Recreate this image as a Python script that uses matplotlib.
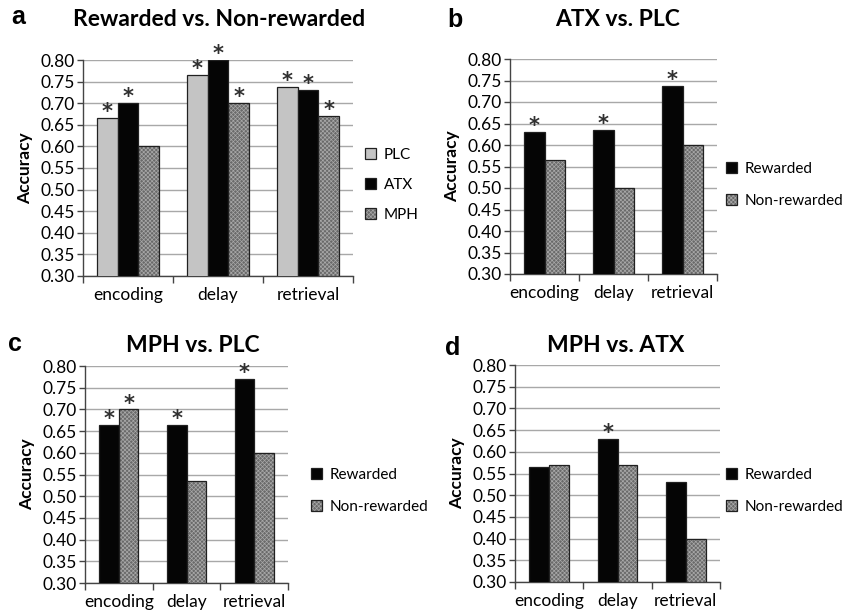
import matplotlib
matplotlib.use("Agg")
import matplotlib.pyplot as plt
from matplotlib.patches import Patch
from matplotlib.legend_handler import HandlerTuple
import numpy as np

plt.rcParams['font.family'] = ['Lato', 'DejaVu Sans']
plt.rcParams['hatch.linewidth'] = 0.5

cats = ['encoding', 'delay', 'retrieval']

# panel a: drug groups, rewarded vs non-rewarded difference
a_plc = [0.665, 0.765, 0.737]
a_atx = [0.700, 0.800, 0.730]
a_mph = [0.600, 0.700, 0.670]
a_plc_star = [1, 1, 1]
a_atx_star = [1, 1, 1]
a_mph_star = [0, 1, 1]

# panel b: ATX vs PLC
b_rew = [0.630, 0.635, 0.737]
b_non = [0.565, 0.500, 0.600]
b_rew_star = [1, 1, 1]
b_non_star = [0, 0, 0]

# panel c: MPH vs PLC
c_rew = [0.665, 0.665, 0.770]
c_non = [0.700, 0.535, 0.600]
c_rew_star = [1, 1, 1]
c_non_star = [1, 0, 0]

# panel d: MPH vs ATX
d_rew = [0.565, 0.630, 0.530]
d_non = [0.570, 0.570, 0.400]
d_rew_star = [0, 1, 0]
d_non_star = [0, 0, 0]

yticks = np.arange(0.30, 0.801, 0.05)

FACES = {'light': '#c4c4c4', 'black': '#050505', 'hatch': '#6a6a6a'}
HATCH = 'xxxxxxxx'


def draw_bar(ax, x, h, w, style):
    if style == 'hatch':
        ax.bar(x, h, w, color=FACES['hatch'], hatch=HATCH, edgecolor='#a8a8a8',
               linewidth=0, zorder=2)
        ax.bar(x, h, w, fill=False, edgecolor='#202020', linewidth=0.9, zorder=3)
    else:
        ax.bar(x, h, w, color=FACES[style], edgecolor='#202020',
               linewidth=0.9, zorder=3)


def legend_handle(style):
    if style == 'hatch':
        p1 = Patch(facecolor=FACES['hatch'], hatch=HATCH, edgecolor='#a8a8a8', linewidth=0)
        p2 = Patch(fill=False, edgecolor='#202020', linewidth=0.9)
        return (p1, p2)
    return Patch(facecolor=FACES[style], edgecolor='#202020', linewidth=0.9)


def panel(ax, series, styles, stars, width, title, letter, labels,
          title_xy, letter_xy, leg_xy, leg_gap):
    n = len(series)
    centers = np.arange(len(cats)) + 0.5
    for i, (vals, st, sr) in enumerate(zip(series, styles, stars)):
        xs = centers + (i - (n - 1) / 2) * width
        for x, v, s in zip(xs, vals, sr):
            draw_bar(ax, x, v, width, st)
            if s:
                ax.annotate('*', (x, v), xytext=(0, -3), textcoords='offset points',
                            ha='center', va='bottom', fontsize=15, color='#303030',
                            fontweight='bold', family=['DejaVu Sans'])
    ax.set_xlim(0, len(cats))
    ax.set_ylim(0.30, 0.80)
    ax.set_yticks(yticks)
    ax.set_yticklabels([f'{t:.2f}' for t in yticks], fontsize=12.5)
    ax.yaxis.grid(True, color='#a8a8a8', linewidth=1.0, zorder=0)
    ax.set_axisbelow(True)
    ax.set_xticks(centers)
    ax.set_xticklabels(cats, fontsize=12.5)
    ax.set_xticks(np.arange(len(cats) + 1), minor=True)
    ax.tick_params(axis='x', which='major', length=0, pad=8)
    ax.tick_params(axis='x', which='minor', length=5, color='#444444', width=1)
    ax.tick_params(axis='y', length=4, color='#444444', width=1, pad=2)
    for s in ['top', 'right']:
        ax.spines[s].set_visible(False)
    for s in ['left', 'bottom']:
        ax.spines[s].set_color('#444444')
        ax.spines[s].set_linewidth(1.0)
    ax.set_ylabel('Accuracy', fontsize=12.5, fontweight='bold', labelpad=5)
    fig.text(title_xy[0] / W, 1 - title_xy[1] / H, title, ha='center', va='center',
             fontsize=16.5, fontweight='bold')
    fig.text(letter_xy[0] / W, 1 - letter_xy[1] / H, letter, ha='center', va='center',
             fontsize=18, fontweight='bold', family=['Liberation Sans', 'DejaVu Sans'])
    handles = [legend_handle(st) for st in styles]
    fig.legend(handles, labels, loc='center left',
               bbox_to_anchor=(leg_xy[0] / W, 1 - leg_xy[1] / H),
               frameon=False, fontsize=11, handlelength=0.75, handleheight=0.75,
               handletextpad=0.5, labelspacing=leg_gap, borderpad=0,
               borderaxespad=0,
               handler_map={tuple: HandlerTuple(ndivide=1)})


W, H = 846, 615
fig = plt.figure(figsize=(W / 100, H / 100), dpi=100)


def add_ax(l, t, r, b):
    return fig.add_axes([l / W, 1 - b / H, (r - l) / W, (b - t) / H])


ax_a = add_ax(83, 60, 353, 276)
ax_b = add_ax(510, 59, 717, 274)
ax_c = add_ax(85, 366, 288, 583)
ax_d = add_ax(515, 365, 720, 582)

panel(ax_a, [a_plc, a_atx, a_mph], ['light', 'black', 'hatch'],
      [a_plc_star, a_atx_star, a_mph_star], 0.23,
      'Rewarded vs. Non-rewarded', 'a', ['PLC', 'ATX', 'MPH'],
      (219, 20), (18, 17), (365, 185), 1.05)
panel(ax_b, [b_rew, b_non], ['black', 'hatch'], [b_rew_star, b_non_star], 0.29,
      'ATX vs. PLC', 'b', ['Rewarded', 'Non-rewarded'],
      (618, 20), (455, 20), (726, 185), 1.15)
panel(ax_c, [c_rew, c_non], ['black', 'hatch'], [c_rew_star, c_non_star], 0.29,
      'MPH vs. PLC', 'c', ['Rewarded', 'Non-rewarded'],
      (193, 345), (15, 344), (311, 491), 1.15)
panel(ax_d, [d_rew, d_non], ['black', 'hatch'], [d_rew_star, d_non_star], 0.29,
      'MPH vs. ATX', 'd', ['Rewarded', 'Non-rewarded'],
      (616, 346), (453, 348), (726, 491), 1.15)

fig.savefig('out.png', dpi=100)
